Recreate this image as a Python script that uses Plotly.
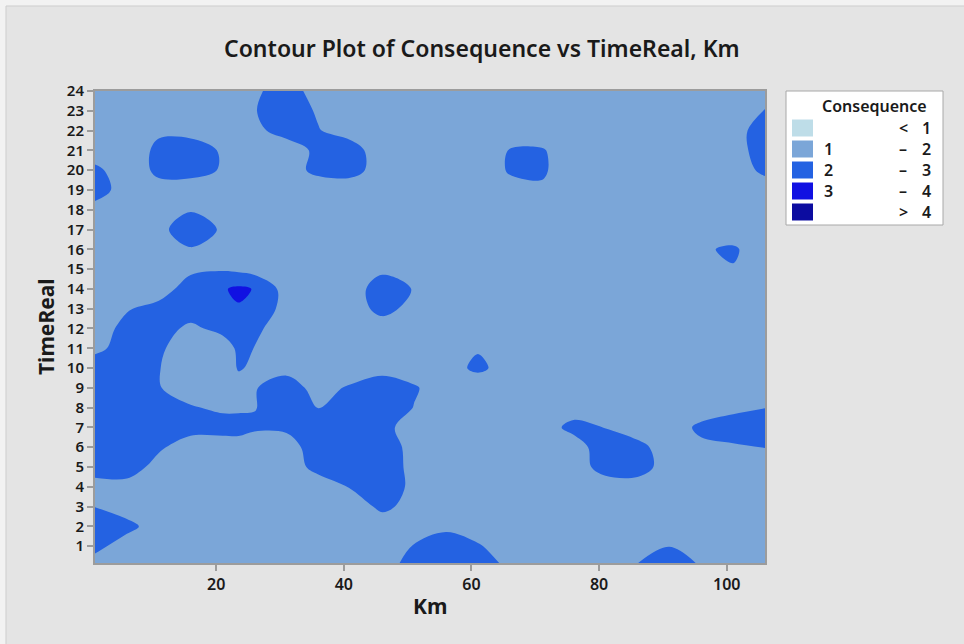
import plotly.graph_objects as go

# ---------------- data ----------------
km = [1, 6, 11, 16, 21, 23.5, 26, 31, 36, 41, 46, 51, 56, 61, 66, 71, 76, 81, 86, 91, 96, 101, 106]
time_real = [24, 23, 22, 21, 20, 19, 18, 17, 16, 15, 14, 13, 12, 11, 10, 9, 8, 7, 6, 5, 4, 3, 2, 1, 0]

# one row per time_real value (top row = 24), one column per km value
consequence = [
    [1.5, 1.5, 1.5, 1.5, 1.5, 1.5, 1.82, 2.5, 1.55, 1.5, 1.5, 1.5, 1.5, 1.5, 1.5, 1.5, 1.5, 1.5, 1.5, 1.5, 1.5, 1.5, 1.5],
    [1.5, 1.5, 1.5, 1.5, 1.5, 1.5, 1.95, 2.6, 1.88, 1.5, 1.5, 1.5, 1.5, 1.5, 1.5, 1.5, 1.5, 1.5, 1.5, 1.5, 1.5, 1.5, 2.05],
    [1.5, 1.5, 1.88, 1.7, 1.5, 1.5, 1.7, 2.5, 2.05, 1.55, 1.5, 1.5, 1.5, 1.5, 1.5, 1.5, 1.5, 1.5, 1.5, 1.5, 1.5, 1.5, 2.6],
    [1.5, 1.5, 2.18, 2.45, 1.9, 1.5, 1.5, 1.3, 2.3, 2.5, 1.36, 1.5, 1.5, 1.5, 2.04, 2.08, 1.5, 1.5, 1.5, 1.5, 1.5, 1.5, 2.55],
    [2.2, 1.5, 2.18, 2.45, 1.9, 1.5, 1.5, 1.5, 2.3, 2.5, 1.4, 1.5, 1.5, 1.2, 2.12, 2.2, 1.2, 1.5, 1.5, 1.5, 1.5, 1.5, 2.21],
    [2.5, 1.5, 1.73, 1.35, 1.5, 1.5, 1.5, 1.5, 1.3, 1.2, 1.5, 1.5, 1.5, 1.5, 1.6, 1.8, 1.5, 1.5, 1.5, 1.5, 1.5, 1.5, 1.5],
    [1.6, 1.5, 1.5, 1.96, 1.5, 1.5, 1.5, 1.5, 1.5, 1.5, 1.5, 1.5, 1.5, 1.5, 1.5, 1.5, 1.5, 1.5, 1.5, 1.5, 1.5, 1.5, 1.5],
    [1.5, 1.5, 1.85, 2.32, 1.93, 1.5, 1.5, 1.5, 1.5, 1.5, 1.5, 1.5, 1.5, 1.5, 1.5, 1.5, 1.5, 1.5, 1.5, 1.5, 1.5, 1.5, 1.5],
    [1.5, 1.5, 1.5, 1.96, 1.5, 1.5, 1.5, 1.5, 1.5, 1.5, 1.5, 1.5, 1.5, 1.5, 1.5, 1.5, 1.5, 1.5, 1.5, 1.5, 1.9, 2.12, 1.5],
    [1.5, 1.5, 1.5, 1.79, 1.9, 1.77, 1.59, 1.5, 1.5, 1.5, 1.8, 1.5, 1.5, 1.5, 1.5, 1.5, 1.5, 1.5, 1.5, 1.5, 1.5, 1.95, 1.5],
    [1.5, 1.5, 1.5, 2.5, 2.9, 3.2, 2.95, 1.6, 1.5, 1.5, 2.5, 1.95, 1.5, 1.5, 1.5, 1.5, 1.5, 1.5, 1.5, 1.5, 1.5, 1.5, 1.5],
    [1.5, 1.925, 2.33, 2.5, 2.7, 2.91, 2.6, 1.7, 1.5, 1.5, 2.3, 1.7, 1.5, 1.5, 1.5, 1.5, 1.5, 1.5, 1.5, 1.5, 1.5, 1.5, 1.5],
    [1.5, 2.3, 2.4, 1.79, 2.3, 2.5, 2.2, 1.5, 1.5, 1.5, 1.5, 1.5, 1.5, 1.5, 1.5, 1.5, 1.5, 1.5, 1.5, 1.5, 1.5, 1.5, 1.5],
    [1.7, 2.5, 2.2, 1.3, 1.44, 2.2, 1.98, 1.5, 1.5, 1.5, 1.5, 1.5, 1.5, 1.9, 1.5, 1.5, 1.5, 1.5, 1.5, 1.5, 1.5, 1.5, 1.5],
    [2.7, 2.8, 2.05, 1.2, 1.4, 2.08, 1.85, 1.75, 1.5, 1.5, 1.75, 1.5, 1.5, 2.25, 1.5, 1.5, 1.5, 1.5, 1.5, 1.5, 1.5, 1.5, 1.5],
    [2.9, 2.8, 2.06, 1.4, 1.5, 1.6, 1.95, 2.4, 1.7, 2.1, 2.4, 2.1, 1.5, 1.2, 1.5, 1.5, 1.5, 1.5, 1.5, 1.5, 1.5, 1.5, 1.5],
    [2.9, 2.8, 2.6, 2.1, 1.8, 1.8, 1.95, 2.6, 1.98, 2.5, 2.7, 1.97, 1.5, 1.5, 1.5, 1.5, 1.5, 1.5, 1.5, 1.5, 1.5, 1.7, 1.98],
    [2.9, 2.9, 2.8, 2.5, 2.5, 2.5, 2.2, 2.2, 2.6, 2.7, 2.3, 1.55, 1.5, 1.5, 1.5, 1.5, 2.3, 1.97, 1.5, 1.5, 2.2, 2.6, 2.6],
    [2.9, 2.8, 2.2, 1.3, 1.3, 1.35, 1.2, 1.5, 2.6, 2.8, 2.5, 1.7, 1.5, 1.5, 1.5, 1.5, 1.5, 2.6, 2.3, 1.5, 1.8, 1.85, 2.02],
    [2.6, 2.7, 1.5, 1.5, 1.5, 1.5, 1.5, 1.5, 2.3, 2.6, 2.6, 1.7, 1.5, 1.5, 1.5, 1.5, 1.5, 2.4, 2.5, 1.5, 1.5, 1.5, 1.5],
    [1.5, 1.5, 1.5, 1.5, 1.5, 1.5, 1.5, 1.5, 1.5, 2.05, 2.5, 1.8, 1.5, 1.5, 1.5, 1.5, 1.5, 1.5, 1.5, 1.5, 1.5, 1.5, 1.5],
    [1.98, 1.5, 1.5, 1.5, 1.5, 1.5, 1.5, 1.5, 1.5, 1.5, 2.2, 1.7, 1.5, 1.5, 1.5, 1.5, 1.5, 1.5, 1.5, 1.5, 1.5, 1.5, 1.5],
    [2.6, 2.3, 1.5, 1.5, 1.5, 1.5, 1.5, 1.5, 1.5, 1.5, 1.5, 1.5, 1.8, 1.5, 1.5, 1.5, 1.5, 1.5, 1.5, 1.5, 1.5, 1.5, 1.5],
    [2.3, 1.5, 1.5, 1.5, 1.5, 1.5, 1.5, 1.5, 1.5, 1.5, 1.5, 2.05, 2.5, 2.1, 1.5, 1.5, 1.5, 1.5, 1.5, 1.98, 1.5, 1.5, 1.5],
    [1.5, 1.5, 1.5, 1.5, 1.5, 1.5, 1.5, 1.5, 1.5, 1.5, 1.5, 2.5, 2.8, 2.6, 1.8, 1.5, 1.5, 1.5, 2.05, 2.6, 1.95, 1.5, 1.5],
]

contour_levels = [1, 2, 3, 4]
band_colors = ["#BEDDE8", "#7BA6D8", "#2462E2", "#1111E2", "#0C0CA0"]
legend_low = ["", "1", "2", "3", ""]
legend_sym = ["<", "–", "–", "–", ">"]
legend_high = ["1", "2", "3", "4", "4"]
x_ticks = [20, 40, 60, 80, 100]
y_ticks = list(range(1, 25))

# ---------------- layout geometry ----------------
W, H = 964, 644
L, R, T, B = 95, 765, 91, 563
FONT = "Noto Sans"
TXT = "#1A1A1A"


def px(x):
    return (x - L) / (R - L)


def py(y):
    return (B - y) / (B - T)


fig = go.Figure()
step = contour_levels[1] - contour_levels[0]
fig.add_trace(go.Contour(
    x=km,
    y=time_real[::-1],
    z=consequence[::-1],
    autocontour=False,
    contours=dict(start=contour_levels[0], end=contour_levels[-1], size=step,
                  coloring="fill", showlines=False),
    colorscale=[[i / (len(band_colors) - 1), c] for i, c in enumerate(band_colors)],
    line=dict(width=0, smoothing=1),
    showscale=False,
    hoverinfo="skip",
))

axis_common = dict(
    showgrid=False, zeroline=False, showline=True, linecolor="#9C9C9C", linewidth=2,
    mirror=True, ticks="outside", ticklen=6, tickwidth=1.5, tickcolor="#9C9C9C",
)
fig.update_xaxes(range=[1, 106], tickvals=x_ticks,
                 tickfont=dict(family=FONT, size=16, color=TXT, weight=600), **axis_common)
fig.update_yaxes(range=[0.15, 24], tickvals=y_ticks,
                 tickfont=dict(family=FONT, size=15, color=TXT, weight=600), **axis_common)

shapes = [
    # outer frame of the graph region
    dict(type="rect", xref="paper", yref="paper", x0=px(6), x1=px(1000), y0=py(700), y1=py(6),
         fillcolor="#E4E4E4", line=dict(color="#CDCDCD", width=1), layer="below"),
    # legend box
    dict(type="rect", xref="paper", yref="paper", x0=px(786), x1=px(943), y0=py(225), y1=py(91),
         fillcolor="white", line=dict(color="#A8A8A8", width=1)),
]
annotations = [
    dict(text="Contour Plot of Consequence vs TimeReal, Km", xref="paper", yref="paper",
         x=px(482), y=py(48), showarrow=False, xanchor="center", yanchor="middle",
         font=dict(family=FONT, size=23, color=TXT, weight=600)),
    dict(text="Km", xref="paper", yref="paper", x=px(430), y=py(606), showarrow=False,
         xanchor="center", yanchor="middle", font=dict(family=FONT, size=21, color=TXT, weight=700)),
    dict(text="TimeReal", xref="paper", yref="paper", x=px(46), y=py(326), showarrow=False,
         textangle=-90, xanchor="center", yanchor="middle",
         font=dict(family=FONT, size=21, color=TXT, weight=700)),
    dict(text="Consequence", xref="paper", yref="paper", x=px(874), y=py(106), showarrow=False,
         xanchor="center", yanchor="middle", font=dict(family=FONT, size=16, color=TXT, weight=600)),
]
row_y = [128, 149, 170, 191, 212]
for i, col in enumerate(band_colors):
    yc = row_y[i]
    shapes.append(dict(type="rect", xref="paper", yref="paper", x0=px(792), x1=px(813),
                       y0=py(yc + 8.5), y1=py(yc - 8.5), fillcolor=col, line=dict(width=0)))
    for txt, xx in ((legend_low[i], 828), (legend_sym[i], 903), (legend_high[i], 926)):
        if txt:
            annotations.append(dict(text=txt, xref="paper", yref="paper", x=px(xx), y=py(yc),
                                    showarrow=False, xanchor="center", yanchor="middle",
                                    font=dict(family=FONT, size=16, color=TXT, weight=600)))

fig.update_layout(
    width=W, height=H,
    margin=dict(l=L, r=W - R, t=T, b=H - B, pad=0),
    paper_bgcolor="#F2F2F2",
    plot_bgcolor=band_colors[1],
    showlegend=False,
    shapes=shapes,
    annotations=annotations,
)

fig.write_html("out.html", config={"displayModeBar": False},
               post_script="document.body.style.margin='0';")
